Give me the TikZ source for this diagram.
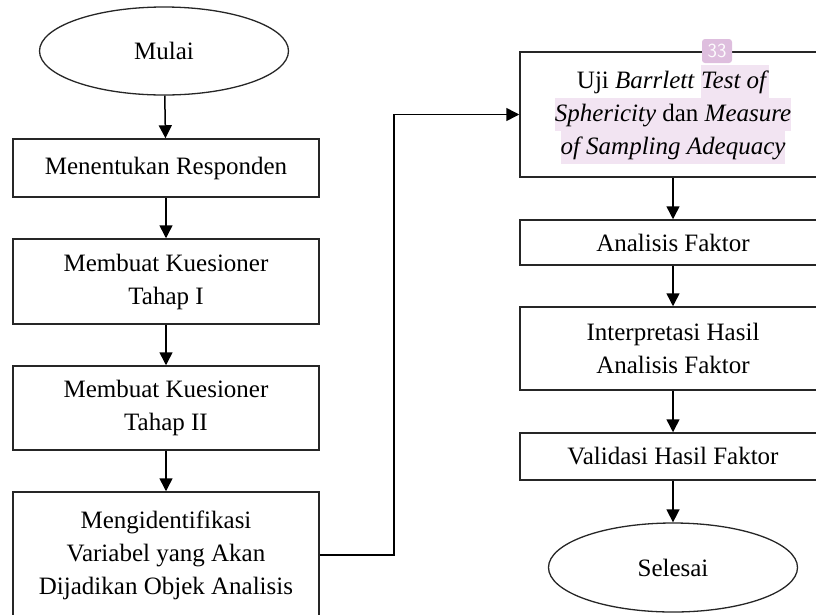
\documentclass[tikz,border=0pt]{standalone}
\usepackage{fontspec}
\setmainfont{Liberation Serif}
\usepackage{tikz}
\usetikzlibrary{shapes, arrows, arrows.meta, positioning, calc}

\definecolor{hlcolor}{RGB}{242,228,242}
\definecolor{badgecolor}{RGB}{222,190,222}
\newcommand{\hl}[1]{{\setlength{\fboxsep}{0pt}\colorbox{hlcolor}{\strut#1}}}

\tikzset{
    proses/.style={draw=black!85, line width=1.5pt, rectangle, minimum width=306pt,
        inner sep=0pt, align=center, font=\fontsize{25}{33}\selectfont},
    terminal/.style={draw=black!85, line width=1.3pt, ellipse, minimum width=249pt,
        minimum height=88pt, inner sep=0pt, font=\fontsize{25}{33}\selectfont},
    alur/.style={line width=1.5pt, -{Triangle[length=13pt, width=13pt]}},
    penanda/.style={fill=badgecolor, rounded corners=3pt, minimum width=30pt,
        minimum height=24pt, inner sep=0pt, text=white!95!badgecolor,
        font=\fontsize{20}{20}\selectfont\sffamily}
}

\begin{document}
\begin{tikzpicture}[x=1pt, y=-1pt]
    \useasboundingbox (0,0) rectangle (816,614);
    \clip (0,0) rectangle (816,614);

    % Kolom kiri
    \node[terminal] (mulai) at (164,51) {Mulai};
    \node[proses, minimum height=58pt] (responden) at (166,168) {Menentukan Responden};
    \node[proses, minimum height=85pt] (kuesioner1) at (166,281.5) {Membuat Kuesioner\\Tahap I};
    \node[proses, minimum height=84pt] (kuesioner2) at (166,408) {Membuat Kuesioner\\Tahap II};
    \node[proses, minimum height=126pt] (identifikasi) at (166,555)
        {Mengidentifikasi\\Variabel yang Akan\\Dijadikan Objek Analisis};

    % Kolom kanan
    \node[proses, minimum height=125pt] (uji) at (673,114.5)
        {Uji \textit{Barrlett} \hl{\textit{Test of}}\\
         \hl{\textit{Sphericity} dan \textit{Measure}}\\
         \hl{\textit{of Sampling Adequacy}}};
    \node[proses, minimum height=45pt] (analisis) at (673,242.5) {Analisis Faktor};
    \node[proses, minimum height=83pt] (interpretasi) at (673,348.5) {Interpretasi Hasil\\Analisis Faktor};
    \node[proses, minimum height=47pt] (validasi) at (673,456.5) {Validasi Hasil Faktor};
    \node[terminal, minimum height=89pt] (selesai) at (673,567.5) {Selesai};

    % Penanda
    \node[penanda] (nomor) at (717,51) {33};

    % Panah
    \draw[alur] (mulai) -- (responden);
    \draw[alur] (responden) -- (kuesioner1);
    \draw[alur] (kuesioner1) -- (kuesioner2);
    \draw[alur] (kuesioner2) -- (identifikasi);
    \draw[alur] (identifikasi.east) -- ++(74,0) |- (uji.west);
    \draw[alur] (uji) -- (analisis);
    \draw[alur] (analisis) -- (interpretasi);
    \draw[alur] (interpretasi) -- (validasi);
    \draw[alur] (validasi) -- (selesai);
\end{tikzpicture}
\end{document}
